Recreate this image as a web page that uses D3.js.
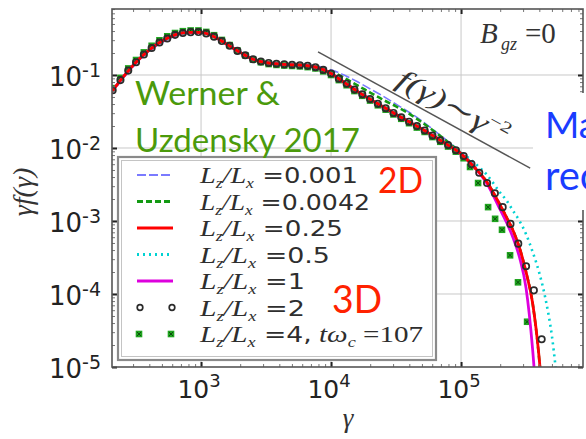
<!DOCTYPE html>
<html>
<head>
<meta charset="utf-8">
<script src="https://cdn.jsdelivr.net/npm/d3@7"></script>
<style>
  html, body { margin: 0; padding: 0; background: #fff; }
  svg { display: block; }
</style>
</head>
<body>
<svg id="chart" width="586" height="439"></svg>
<script>
// ---- data (log10 of gamma and of gamma*f(gamma)) ----
const lineLgGamma = [2.3, 2.4, 2.5, 2.6, 2.7, 2.8, 2.9, 3.0, 3.1, 3.2, 3.3, 3.4, 3.5, 3.6, 3.7, 3.8, 3.9, 4.0,
  4.1, 4.2, 4.3, 4.4, 4.5, 4.6, 4.7, 4.8, 4.9, 5.0, 5.1, 5.2, 5.3, 5.35, 5.4, 5.45, 5.5, 5.55, 5.6, 5.65, 5.7, 5.75];

const lgF_0001 = [-1.28, -1.05, -0.845, -0.68, -0.555, -0.47, -0.43, -0.425, -0.48, -0.58, -0.69, -0.785, -0.83, -0.85,
  -0.855, -0.86, -0.88, -0.93, -1.00, -1.09, -1.19, -1.29, -1.40, -1.51, -1.63, -1.77, -1.91, -2.06, -2.24, -2.46,
  -2.77, -2.94, -3.12, -3.36, -3.69, -4.10, -4.85, -6.0, null, null];

const lgF_0042 = [-1.26, -1.03, -0.825, -0.66, -0.535, -0.45, -0.415, -0.415, -0.475, -0.58, -0.69, -0.785, -0.83, -0.85,
  -0.855, -0.865, -0.89, -0.95, -1.04, -1.14, -1.24, -1.34, -1.43, -1.53, -1.65, -1.78, -1.92, -2.07, -2.25, -2.47,
  -2.78, -2.95, -3.13, -3.37, -3.70, -4.12, -4.87, -6.0, null, null];

const lgF_025 = [-1.26, -1.03, -0.825, -0.66, -0.535, -0.45, -0.415, -0.415, -0.475, -0.58, -0.69, -0.785, -0.83, -0.85,
  -0.86, -0.87, -0.90, -0.98, -1.10, -1.22, -1.33, -1.435, -1.54, -1.64, -1.74, -1.85, -1.96, -2.08, -2.26, -2.47,
  -2.78, -2.95, -3.13, -3.37, -3.70, -4.12, -4.86, -6.0, null, null];

const lgF_05 = [-1.26, -1.03, -0.825, -0.66, -0.535, -0.45, -0.415, -0.415, -0.475, -0.58, -0.69, -0.785, -0.83, -0.85,
  -0.86, -0.87, -0.90, -0.98, -1.10, -1.22, -1.33, -1.435, -1.54, -1.64, -1.74, -1.85, -1.96, -2.06, -2.20, -2.37,
  -2.61, -2.72, -2.86, -3.00, -3.18, -3.42, -3.70, -4.07, -4.59, -5.4];

const lgF_1 = [-1.26, -1.03, -0.825, -0.66, -0.535, -0.45, -0.415, -0.415, -0.475, -0.58, -0.69, -0.785, -0.83, -0.85,
  -0.86, -0.87, -0.90, -0.98, -1.10, -1.22, -1.33, -1.435, -1.54, -1.64, -1.74, -1.85, -1.96, -2.08, -2.26, -2.49,
  -2.84, -3.02, -3.23, -3.50, -3.92, -4.75, -6.0, null, null, null];

// Lz/Lx = 2 (open circles)
const circleLgGamma = [2.32, 2.38, 2.44, 2.50, 2.56, 2.62, 2.68, 2.74, 2.80, 2.86, 2.92, 2.98, 3.04, 3.10, 3.16, 3.22,
  3.28, 3.34, 3.40, 3.46, 3.52, 3.58, 3.64, 3.70, 3.76, 3.82, 3.88, 3.94, 4.00, 4.06, 4.12, 4.18, 4.24, 4.30, 4.36,
  4.42, 4.48, 4.54, 4.60, 4.66, 4.72, 4.78, 4.84, 4.90, 4.96, 5.02, 5.08, 5.14, 5.20, 5.26, 5.32, 5.38, 5.44, 5.50,
  5.56, 5.62];

const lgF_2 = [-1.21, -1.07, -0.94, -0.825, -0.72, -0.63, -0.555, -0.50, -0.45, -0.425, -0.413, -0.412, -0.43, -0.475,
  -0.535, -0.60, -0.67, -0.73, -0.785, -0.815, -0.835, -0.846, -0.855, -0.86, -0.866, -0.875, -0.893, -0.93, -0.98,
  -1.05, -1.12, -1.20, -1.265, -1.33, -1.395, -1.455, -1.52, -1.58, -1.64, -1.70, -1.76, -1.83, -1.895, -1.96, -2.03,
  -2.11, -2.22, -2.34, -2.48, -2.62, -2.81, -3.04, -3.31, -3.62, -3.95, -4.62];

// Lz/Lx = 4 (green crosses)
const crossLgGamma = [2.32, 2.38, 2.44, 2.50, 2.56, 2.62, 2.68, 2.74, 2.80, 2.86, 2.92, 2.98, 3.04, 3.10, 3.16, 3.22,
  3.28, 3.34, 3.40, 3.46, 3.52, 3.58, 3.64, 3.70, 3.76, 3.82, 3.88, 3.94, 4.00, 4.06, 4.12, 4.18, 4.24, 4.30, 4.36,
  4.42, 4.48, 4.54, 4.60, 4.66, 4.72, 4.78, 4.84, 4.90, 4.96, 5.02, 5.069, 5.131, 5.208, 5.262, 5.315, 5.377, 5.438,
  5.508];

const lgF_4 = [-1.18, -1.04, -0.91, -0.795, -0.69, -0.60, -0.525, -0.47, -0.425, -0.40, -0.39, -0.39, -0.41, -0.455,
  -0.52, -0.59, -0.665, -0.73, -0.79, -0.825, -0.85, -0.862, -0.87, -0.876, -0.882, -0.892, -0.91, -0.95, -1.00,
  -1.07, -1.14, -1.22, -1.285, -1.35, -1.415, -1.475, -1.54, -1.60, -1.66, -1.72, -1.78, -1.85, -1.915, -1.98, -2.05,
  -2.14, -2.26, -2.48, -2.81, -2.97, -3.12, -3.47, -3.84, -4.38];

// power-law guide f(gamma) ~ gamma^-2  (gamma*f ~ gamma^-1)
const refGamma = [7.94e3, 3.40e5];
const refValue = [2.07e-1, 5.3e-3];

const xTickExps = [3, 4, 5];
const yTickExps = [-5, -4, -3, -2, -1];
const legendValues = ["0.001", "0.0042", "0.25", "0.5", "1", "2", "4"];

// ---- layout ----
const svg = d3.select("#chart");
const L = 112, R = 583, T = 9, B = 367;
const x = d3.scaleLog().domain([10 ** 2.315, 10 ** 5.938]).range([L, R]);
const y = d3.scaleLog().domain([1e-5, 10 ** -0.096]).range([B, T]);

const serif = "'Liberation Serif', 'DejaVu Serif', serif";
const sans = "'DejaVu Sans', sans-serif";
const slide = "Lato, 'Open Sans', sans-serif";

svg.append("defs").append("clipPath").attr("id", "plotclip")
  .append("rect").attr("x", L).attr("y", T).attr("width", R - L).attr("height", B - T);

// grid lines at decades
const grid = svg.append("g").attr("stroke", "#c8c8c8").attr("stroke-width", 1);
xTickExps.forEach(e => grid.append("line")
  .attr("x1", x(10 ** e)).attr("x2", x(10 ** e)).attr("y1", T).attr("y2", B));
yTickExps.filter(e => e > -5).forEach(e => grid.append("line")
  .attr("x1", L).attr("x2", R).attr("y1", y(10 ** e)).attr("y2", y(10 ** e)));

// ---- curves ----
const plot = svg.append("g").attr("clip-path", "url(#plotclip)");
const line = d3.line()
  .defined(d => d[1] !== null)
  .x(d => x(10 ** d[0]))
  .y(d => y(10 ** d[1]))
  .curve(d3.curveMonotoneX);

const lineSeries = [
  { v: lgF_0001, color: "#7a7aff", width: 1.6, dash: "9,3" },
  { v: lgF_0042, color: "#139a13", width: 2.6, dash: "6,3" },
  { v: lgF_05, color: "#00d2d2", width: 2.6, dash: "2,4" },
];
lineSeries.forEach(s => plot.append("path")
  .attr("d", line(lineLgGamma.map((g, i) => [g, s.v[i]])))
  .attr("fill", "none").attr("stroke", s.color).attr("stroke-width", s.width)
  .attr("stroke-dasharray", s.dash));

function drawCross(g, cx, cy) {
  g.append("rect").attr("x", cx - 3.3).attr("y", cy - 3.3).attr("width", 6.6).attr("height", 6.6)
    .attr("fill", "#1fa51f");
  g.append("path").attr("d", `M${cx - 2},${cy - 2}L${cx + 2},${cy + 2}M${cx - 2},${cy + 2}L${cx + 2},${cy - 2}`)
    .attr("stroke", "#0c4d0c").attr("stroke-width", 1);
}
const crossG = plot.append("g");
crossLgGamma.forEach((g, i) => drawCross(crossG, x(10 ** g), y(10 ** lgF_4[i])));

plot.append("path")
  .attr("d", line(lineLgGamma.map((g, i) => [g, lgF_1[i]])))
  .attr("fill", "none").attr("stroke", "#dd00dd").attr("stroke-width", 2.8);
plot.append("path")
  .attr("d", line(lineLgGamma.map((g, i) => [g, lgF_025[i]])))
  .attr("fill", "none").attr("stroke", "#ff0000").attr("stroke-width", 2.8);

plot.append("g").selectAll("circle")
  .data(circleLgGamma.map((g, i) => [g, lgF_2[i]]))
  .join("circle")
  .attr("cx", d => x(10 ** d[0])).attr("cy", d => y(10 ** d[1])).attr("r", 3.2)
  .attr("fill", "none").attr("stroke", "#2b2b2b").attr("stroke-width", 1.7);

// power-law guide and its label
const p1 = [x(refGamma[0]), y(refValue[0])], p2 = [x(refGamma[1]), y(refValue[1])];
svg.append("line").attr("x1", p1[0]).attr("y1", p1[1]).attr("x2", p2[0]).attr("y2", p2[1])
  .attr("stroke", "#555").attr("stroke-width", 1.5);
const ang = Math.atan2(p2[1] - p1[1], p2[0] - p1[0]);
const t = 0.6, off = 18;
const lx = p1[0] + t * (p2[0] - p1[0]) + off * Math.sin(ang);
const ly = p1[1] + t * (p2[1] - p1[1]) - off * Math.cos(ang);
const refLabel = svg.append("text")
  .attr("transform", `translate(${lx},${ly}) rotate(${ang * 180 / Math.PI})`)
  .attr("text-anchor", "middle").attr("dy", "0.35em")
  .attr("font-family", serif).attr("font-style", "italic").attr("font-size", 28).attr("fill", "#333")
  .attr("textLength", 124).attr("lengthAdjust", "spacingAndGlyphs");
refLabel.append("tspan").text("f(γ)∼γ");
refLabel.append("tspan").attr("font-size", 16).attr("dy", -11).attr("font-style", "normal").text("−2");

// ---- axes: ticks drawn inward on all four sides ----
const majorX = xTickExps.map(e => 10 ** e);
const majorY = yTickExps.map(e => 10 ** e);
const minorX = [], minorY = [];
for (let d = 2; d <= 5; d++) for (let m = 2; m <= 9; m++) {
  const v = m * 10 ** d; if (v > x.domain()[0] && v < x.domain()[1]) minorX.push(v);
}
for (let d = -5; d <= -1; d++) for (let m = 2; m <= 9; m++) {
  const v = m * 10 ** d; if (v > y.domain()[0] && v < y.domain()[1]) minorY.push(v);
}
function axisGroup(gen, tx, ty, vals, size, color, width) {
  const g = svg.append("g").attr("transform", `translate(${tx},${ty})`)
    .call(gen.tickValues(vals).tickSize(size).tickFormat(""));
  g.select(".domain").remove();
  g.selectAll("line").attr("stroke", color).attr("stroke-width", width);
  g.selectAll("text").remove();
}
axisGroup(d3.axisBottom(x), 0, B, minorX, -3, "#777", 1);
axisGroup(d3.axisTop(x), 0, T, minorX, -3, "#777", 1);
axisGroup(d3.axisLeft(y), L, 0, minorY, -3, "#777", 1);
axisGroup(d3.axisRight(y), R, 0, minorY, -3, "#777", 1);
axisGroup(d3.axisBottom(x), 0, B, majorX, -5, "#222", 2);
axisGroup(d3.axisTop(x), 0, T, majorX, -5, "#222", 2);
axisGroup(d3.axisLeft(y), L, 0, majorY, -5, "#222", 2);
axisGroup(d3.axisRight(y), R, 0, majorY, -5, "#222", 2);

// tick labels
xTickExps.forEach(e => {
  const tx = svg.append("text").attr("x", x(10 ** e) - 2).attr("y", 398).attr("text-anchor", "middle")
    .attr("font-family", sans).attr("font-size", 25).attr("fill", "#222");
  tx.append("tspan").text("10");
  tx.append("tspan").attr("font-size", 18).attr("dy", -11).text(e);
});
yTickExps.forEach(e => {
  const ty = svg.append("text").attr("x", 101).attr("y", y(10 ** e) + 11).attr("text-anchor", "end")
    .attr("font-family", sans).attr("font-size", 26).attr("fill", "#222");
  ty.append("tspan").text("10");
  ty.append("tspan").attr("font-size", 19).attr("dy", -9).text(e);
});

// axis titles
svg.append("text").attr("x", 348).attr("y", 427).attr("text-anchor", "middle")
  .attr("font-family", serif).attr("font-style", "italic").attr("font-size", 27).attr("fill", "#333").text("γ");
svg.append("text").attr("transform", "translate(32,192) rotate(-90)").attr("text-anchor", "middle")
  .attr("font-family", serif).attr("font-style", "italic").attr("font-size", 28).attr("fill", "#333")
  .text("γf(γ)");

// ---- legend ----
const lg = svg.append("g");
lg.append("rect").attr("x", 118).attr("y", 157).attr("width", 318).attr("height", 203)
  .attr("fill", "#fff").attr("stroke", "#8a8a8a").attr("stroke-width", 2.2);
lg.append("rect").attr("x", 121.5).attr("y", 160.5).attr("width", 311).attr("height", 196)
  .attr("fill", "none").attr("stroke", "#c4c4c4").attr("stroke-width", 1);
const rowY = d3.scalePoint().domain(legendValues).range([175, 334]);
const sampleStyles = [
  { color: "#7a7aff", width: 1.8, dash: "9,3" },
  { color: "#139a13", width: 3, dash: "6,3" },
  { color: "#ff0000", width: 2.8, dash: null },
  { color: "#00d2d2", width: 3, dash: "2,4" },
  { color: "#dd00dd", width: 2.8, dash: null },
];
sampleStyles.forEach((s, i) => lg.append("line")
  .attr("x1", 137).attr("x2", 173).attr("y1", rowY(legendValues[i])).attr("y2", rowY(legendValues[i]))
  .attr("stroke", s.color).attr("stroke-width", s.width).attr("stroke-dasharray", s.dash));
[140, 172].forEach(cx => lg.append("circle").attr("cx", cx).attr("cy", rowY("2")).attr("r", 2.8)
  .attr("fill", "none").attr("stroke", "#2b2b2b").attr("stroke-width", 1.7));
[139, 171].forEach(cx => drawCross(lg, cx, rowY("4")));

const rowWidths = [158, 170, 143, 130, 105, 105, 223];
legendValues.forEach((v, i) => {
  const tx = lg.append("text").attr("x", 200).attr("y", rowY(v) + 8)
    .attr("font-family", serif).attr("font-size", 24).attr("fill", "#2e2e2e")
    .attr("textLength", rowWidths[i]).attr("lengthAdjust", "spacingAndGlyphs");
  tx.append("tspan").attr("font-style", "italic").text("L");
  tx.append("tspan").attr("font-style", "italic").attr("font-size", 15).attr("dy", 5).text("z");
  tx.append("tspan").attr("font-style", "italic").attr("dy", -5).text("/L");
  tx.append("tspan").attr("font-style", "italic").attr("font-size", 15).attr("dy", 5).text("x");
  tx.append("tspan").attr("font-family", sans).attr("font-size", 22).attr("dy", -5)
    .text(" =" + v + (i === legendValues.length - 1 ? "," : ""));
  if (i === legendValues.length - 1) {
    tx.append("tspan").attr("font-style", "italic").text(" tω");
    tx.append("tspan").attr("font-style", "italic").attr("font-size", 15).attr("dy", 5).text("c");
    tx.append("tspan").attr("dy", -5).text(" =107");
  }
});

// B_gz = 0 annotation
const bz = svg.append("text").attr("y", 43).attr("font-family", serif).attr("font-size", 29).attr("fill", "#333");
bz.append("tspan").attr("x", 480).attr("font-style", "italic").text("B");
bz.append("tspan").attr("x", 501).attr("dy", 7).attr("font-style", "italic").attr("font-size", 18).text("gz");
bz.append("tspan").attr("x", 525).attr("dy", -7).text("=0");

// plot frame
svg.append("rect").attr("x", L).attr("y", T).attr("width", R - L).attr("height", B - T)
  .attr("fill", "none").attr("stroke", "#555").attr("stroke-width", 1.6);

// ---- slide annotations ----
svg.append("text").attr("x", 135).attr("y", 105).attr("font-family", slide).attr("font-size", 33)
  .attr("fill", "#4b9a0b").attr("textLength", 145).attr("lengthAdjust", "spacingAndGlyphs").text("Werner &");
svg.append("text").attr("x", 135).attr("y", 152).attr("font-family", slide).attr("font-size", 33)
  .attr("fill", "#4b9a0b").attr("textLength", 225).attr("lengthAdjust", "spacingAndGlyphs").text("Uzdensky 2017");
svg.append("text").attr("x", 378).attr("y", 193).attr("font-family", slide).attr("font-size", 37)
  .attr("fill", "#ff2200").attr("textLength", 45).attr("lengthAdjust", "spacingAndGlyphs").text("2D");
svg.append("text").attr("x", 332).attr("y", 313).attr("font-family", slide).attr("font-size", 39)
  .attr("fill", "#ff2200").attr("textLength", 50).attr("lengthAdjust", "spacingAndGlyphs").text("3D");

svg.append("rect").attr("x", 533).attr("y", 93).attr("width", 53).attr("height", 117).attr("fill", "#fff");
svg.append("text").attr("x", 545).attr("y", 138).attr("font-family", slide).attr("font-size", 37)
  .attr("fill", "#1a3cff").text("Ma");
svg.append("text").attr("x", 545).attr("y", 190).attr("font-family", slide).attr("font-size", 40)
  .attr("fill", "#1a3cff").text("rec");
</script>
</body>
</html>
